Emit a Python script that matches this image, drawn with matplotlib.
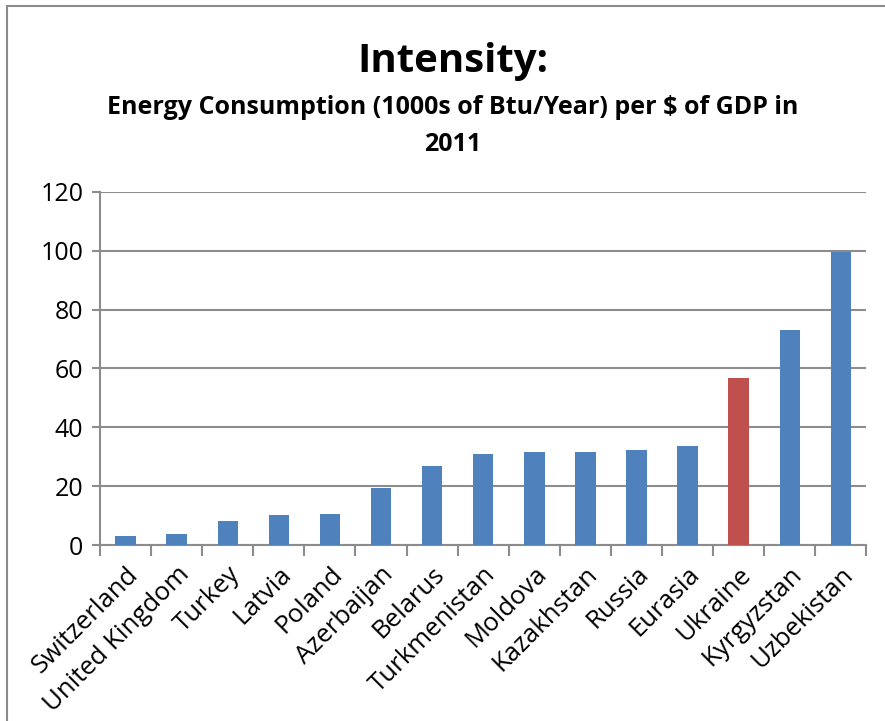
import matplotlib
matplotlib.use("Agg")
import matplotlib.pyplot as plt
from matplotlib.patches import Rectangle

countries = ["Switzerland", "United Kingdom", "Turkey", "Latvia", "Poland",
             "Azerbaijan", "Belarus", "Turkmenistan", "Moldova", "Kazakhstan",
             "Russia", "Eurasia", "Ukraine", "Kyrgyzstan", "Uzbekistan"]
intensity = [3.0, 3.7, 8.2, 10.2, 10.4, 19.5, 26.9, 31.0, 31.6, 31.7,
             32.3, 33.5, 56.7, 73.1, 99.4]
highlight = "Ukraine"
y_ticks = [0, 20, 40, 60, 80, 100, 120]

BLUE = "#4F81BD"
RED = "#C0504D"
GRID = "#8C8C8C"

plt.rcParams["font.family"] = ["Open Sans", "DejaVu Sans"]

fig = plt.figure(figsize=(8.85, 7.21), dpi=100)
ax = fig.add_axes([0.113, 0.244, 0.866, 0.490])

# outer chart frame
fig.patches.append(Rectangle((7 / 885, -0.1), 1.2, (721 - 6) / 721 + 0.1,
                             transform=fig.transFigure, fill=False,
                             edgecolor="#8C8C8C", linewidth=1.5))

x = range(len(countries))
colors = [RED if c == highlight else BLUE for c in countries]
ax.bar(x, intensity, width=0.4, color=colors, zorder=3)

ax.set_xlim(-0.5, len(countries) - 0.5)
ax.set_ylim(0, 120)
ax.set_yticks(y_ticks)
ax.yaxis.grid(True, color=GRID, linewidth=1.5, zorder=0)
ax.set_axisbelow(True)

for s in ["top", "right"]:
    ax.spines[s].set_visible(False)
for s in ["left", "bottom"]:
    ax.spines[s].set_color(GRID)
    ax.spines[s].set_linewidth(1.5)

ax.tick_params(axis="y", length=6, width=1.5, color=GRID, labelsize=18,
               labelcolor="black", pad=6)
# category labels centered under bars, tick marks at category boundaries
ax.set_xticks(list(x))
ax.set_xticklabels(countries, rotation=45, ha="right", rotation_mode="anchor",
                   fontsize=18.5)
ax.tick_params(axis="x", length=0, pad=12)
ax.set_xticks([i - 0.5 for i in range(len(countries) + 1)], minor=True)
ax.tick_params(axis="x", which="minor", length=8, width=1.5, color=GRID)

fig.text(0.512, 0.915, "Intensity:", ha="center", va="center",
         fontsize=29, fontweight="bold")
fig.text(0.512, 0.851, "Energy Consumption (1000s of Btu/Year) per $ of GDP in",
         ha="center", va="center", fontsize=18, fontweight="bold")
fig.text(0.512, 0.800, "2011", ha="center", va="center",
         fontsize=18, fontweight="bold")

fig.savefig("out.png", dpi=100)
